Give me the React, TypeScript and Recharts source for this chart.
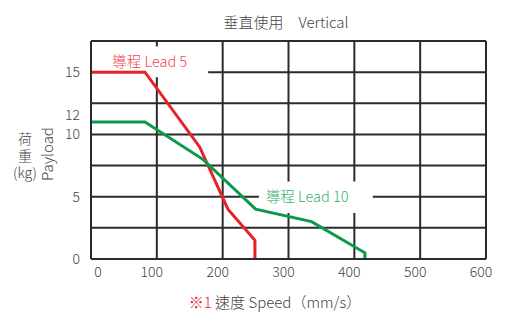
import { LineChart, Line, XAxis, YAxis, CartesianGrid, ReferenceArea } from "recharts";

const lead5Speed = [0, 82, 165, 208, 249, 249];
const lead5Payload = [15, 15, 9, 4, 1.5, 0];
const lead10Speed = [0, 82, 170, 250, 335, 416, 416];
const lead10Payload = [11, 11, 8, 4, 3, 0.5, 0];

const xTicks = [0, 100, 200, 300, 400, 500, 600];
const yTicks = [0, 5, 10, 12, 15];
const gridTicks = [0, 2.5, 5, 7.5, 10, 12.5, 15, 17.5];

const lead5 = lead5Speed.map((s, i) => ({ speed: s, payload: lead5Payload[i] }));
const lead10 = lead10Speed.map((s, i) => ({ speed: s, payload: lead10Payload[i] }));

const FONT = '"Noto Sans CJK TC", "Noto Sans", sans-serif';
const TEXT = "#444";

const YTick = (props: any) => {
    const { x, y, payload } = props;
    return (
        <text x={x} y={y + (payload.value === 12 ? 6 : 0)} dy="0.355em" textAnchor="end" fill={TEXT} fontSize={14} fontWeight={300} fontFamily={FONT}>
            {payload.value}
        </text>
    );
};

const XTick = (props: any) => {
    const { x, y, payload } = props;
    return (
        <text x={x + (payload.value === 0 ? 7 : -5)} y={y} dy="0.71em" textAnchor="middle" fill={TEXT} fontSize={14} fontWeight={300} fontFamily={FONT}>
            {payload.value}
        </text>
    );
};

// stacked vertical label, one glyph group per line
const yLabelLines = ["荷", "重", "(kg)"];

export default function App() {
    return (
        <div style={{ position: "absolute", left: 0, top: 0, width: 505, height: 313, background: "#fff", fontFamily: FONT, fontWeight: 300, color: TEXT }}>
            <div style={{ position: "absolute", left: 186, top: 12, width: 200, textAlign: "center", fontSize: 15, lineHeight: "20px" }}>
                垂直使用　Vertical
            </div>
            {yLabelLines.map((t, i) => (
                <div key={t} style={{ position: "absolute", left: 5, top: 130 + i * 17, width: 40, height: 17, textAlign: "center", fontSize: 14, lineHeight: "17px" }}>
                    {t}
                </div>
            ))}
            <div style={{ position: "absolute", left: 46, top: 154, transform: "translate(-50%, -50%) rotate(-90deg)", fontSize: 15, whiteSpace: "nowrap" }}>
                Payload
            </div>
            <div style={{ position: "absolute", left: 125, top: 292, width: 300, textAlign: "center", fontSize: 15, lineHeight: "20px", whiteSpace: "nowrap" }}>
                <span style={{ color: "#e8202a" }}>※1</span> 速度 Speed（mm/s）
            </div>
            <LineChart width={505} height={313} margin={{ top: 41, right: 19, bottom: 24, left: 0 }}>
                <CartesianGrid stroke="#2b2b2b" strokeWidth={2} fill="none" horizontalValues={gridTicks} verticalValues={xTicks} />
                <XAxis
                    dataKey="speed"
                    type="number"
                    domain={[0, 600]}
                    ticks={xTicks}
                    height={30}
                    tickLine={false}
                    axisLine={{ stroke: "#2b2b2b", strokeWidth: 2 }}
                    tick={<XTick />}
                />
                <YAxis
                    type="number"
                    domain={[0, 17.5]}
                    ticks={yTicks}
                    width={91}
                    tickLine={false}
                    tickMargin={5}
                    axisLine={{ stroke: "#2b2b2b", strokeWidth: 2 }}
                    tick={<YTick />}
                    interval={0}
                />
                <ReferenceArea
                    x1={2}
                    x2={178}
                    y1={14.6}
                    y2={17.05}
                    fill="#fff"
                    fillOpacity={1}
                    stroke="none"
                    label={{ value: "導程 Lead 5", position: "insideLeft", offset: 20, fill: "#ef4550", fontSize: 14.5, fontWeight: 300, fontFamily: FONT }}
                />
                <ReferenceArea
                    x1={255}
                    x2={428}
                    y1={3.7}
                    y2={6.23}
                    fill="#fff"
                    fillOpacity={1}
                    stroke="none"
                    label={{ value: "導程 Lead 10", position: "insideLeft", offset: 7, fill: "#35b06a", fontSize: 14.5, fontWeight: 300, fontFamily: FONT }}
                />
                <Line data={lead5} dataKey="payload" stroke="#e8202a" strokeWidth={3} dot={false} isAnimationActive={false} />
                <Line data={lead10} dataKey="payload" stroke="#0b9a4a" strokeWidth={3} dot={false} isAnimationActive={false} />
            </LineChart>
        </div>
    );
}
